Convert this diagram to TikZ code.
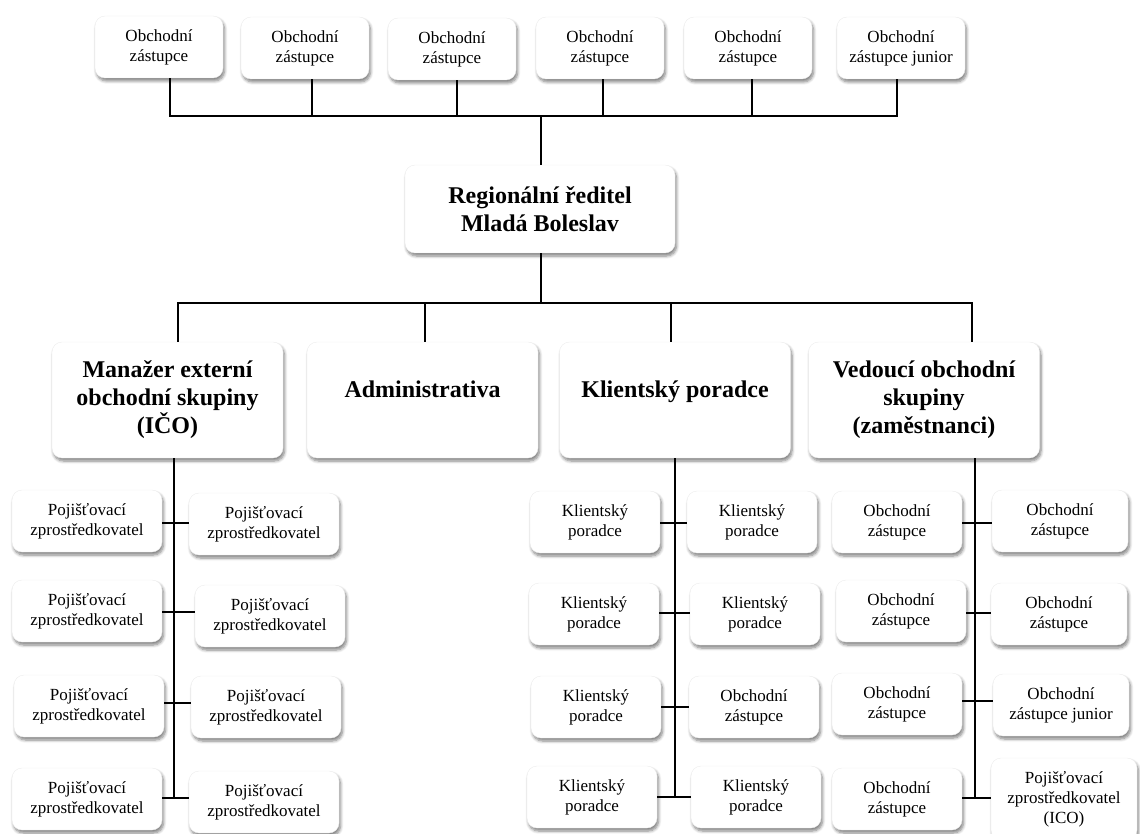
\documentclass[tikz,border=0pt]{standalone}
\usepackage{fontspec}
\setmainfont{Liberation Serif}
\usetikzlibrary{shadows.blur}
\begin{document}
\begin{tikzpicture}[x=1pt,y=-1pt,
  box/.style={fill=white, draw=black!7, rounded corners=10pt, align=center, inner sep=0pt,
    blur shadow={shadow xshift=1.5pt, shadow yshift=-3pt, shadow blur steps=6, shadow blur radius=3pt, shadow opacity=50}},
  small/.style={box, font=\fontsize{17}{20}\selectfont, minimum height=62pt},
  big/.style={box, font=\fontsize{24}{28}\selectfont\bfseries},
  topbox/.style={small, minimum width=128pt},
  pzbox/.style={small, minimum width=150pt},
  kpbox/.style={small, minimum width=130pt},
  ozbox/.style={small, minimum width=130pt},
  ozrbox/.style={small, minimum width=136pt},
  lvl/.style={big, minimum width=231pt, minimum height=116pt},
  line/.style={line width=1.2pt, black}]
\useasboundingbox (0,0) rectangle (1140,834);

% top row
\node[topbox] (t1) at (159,47) {Obchodní\\zástupce};
\node[topbox] (t2) at (305,48) {Obchodní\\zástupce};
\node[topbox] (t3) at (452,49) {Obchodní\\zástupce};
\node[topbox] (t4) at (600,48) {Obchodní\\zástupce};
\node[topbox] (t5) at (748,48) {Obchodní\\zástupce};
\node[topbox] (t6) at (901,48) {Obchodní\\zástupce junior};

% regional director
\node[big, minimum width=270pt, minimum height=88pt] (reg) at (540,209) {Regionální ředitel\\Mladá Boleslav};

% level 2
\node[lvl] (man) at (167.5,400) {Manažer externí\\obchodní skupiny\\(IČO)};
\node[lvl, text depth=22pt] (adm) at (422.5,400) {Administrativa};
\node[lvl, text depth=22pt] (kli) at (675,400) {Klientský poradce};
\node[lvl] (ved) at (924,400) {Vedoucí obchodní\\skupiny\\(zaměstnanci)};

% Manažer children
\node[pzbox] (ml1) at (87,521) {Pojišťovací\\zprostředkovatel};
\node[pzbox] (ml2) at (87,611) {Pojišťovací\\zprostředkovatel};
\node[pzbox] (ml3) at (89,706) {Pojišťovací\\zprostředkovatel};
\node[pzbox] (ml4) at (87,799) {Pojišťovací\\zprostředkovatel};
\node[pzbox] (mr1) at (264,524) {Pojišťovací\\zprostředkovatel};
\node[pzbox] (mr2) at (270,616) {Pojišťovací\\zprostředkovatel};
\node[pzbox] (mr3) at (266,707) {Pojišťovací\\zprostředkovatel};
\node[pzbox] (mr4) at (264,802) {Pojišťovací\\zprostředkovatel};

% Klient children
\node[kpbox] (kl1) at (595,522) {Klientský\\poradce};
\node[kpbox] (kl2) at (594,614) {Klientský\\poradce};
\node[kpbox] (kl3) at (596,707) {Klientský\\poradce};
\node[kpbox] (kl4) at (592,797) {Klientský\\poradce};
\node[kpbox] (kr1) at (752,522) {Klientský\\poradce};
\node[kpbox] (kr2) at (755,614) {Klientský\\poradce};
\node[ozbox] (kr3) at (754,707) {Obchodní\\zástupce};
\node[kpbox] (kr4) at (756,797) {Klientský\\poradce};

% Vedoucí children
\node[ozbox] (vl1) at (897,522) {Obchodní\\zástupce};
\node[ozbox] (vl2) at (901,611) {Obchodní\\zástupce};
\node[ozbox] (vl3) at (897,704) {Obchodní\\zástupce};
\node[ozbox] (vl4) at (897,799) {Obchodní\\zástupce};
\node[ozrbox] (vr1) at (1060,521) {Obchodní\\zástupce};
\node[ozrbox] (vr2) at (1059,614) {Obchodní\\zástupce};
\node[ozrbox] (vr3) at (1061,705) {Obchodní\\zástupce junior};
\node[small, minimum width=146pt, minimum height=82pt] (vr4) at (1064,799) {Pojišťovací\\zprostředkovatel\\(ICO)};

% connector coordinates
\coordinate (b1) at (170,116);
\coordinate (b2) at (312,116);
\coordinate (b3) at (457,116);
\coordinate (b4) at (603,116);
\coordinate (b5) at (752,116);
\coordinate (b6) at (897,116);
\coordinate (c1) at (178,303);
\coordinate (c2) at (425,303);
\coordinate (c3) at (671,303);
\coordinate (c4) at (972,303);
\coordinate (mt) at (174,798);
\coordinate (kt) at (675,797);
\coordinate (vt) at (975,798);

% top connectors
\draw[line] (t1.south -| b1) |- (b6) -- (t6.south -| b6);
\draw[line] (t2.south -| b2) -- (b2);
\draw[line] (t3.south -| b3) -- (b3);
\draw[line] (t4.south -| b4) -- (b4);
\draw[line] (t5.south -| b5) -- (b5);
\draw[line] ([xshift=1pt]reg.north) -- ([xshift=1pt]reg.north |- b1);

% level 2 connectors
\draw[line] ([xshift=1pt]reg.south) -- ([xshift=1pt]reg.south |- c1);
\draw[line] (man.north -| c1) |- (c4) -- (ved.north -| c4);
\draw[line] (adm.north -| c2) -- (c2);
\draw[line] (kli.north -| c3) -- (c3);

% trunks
\draw[line] (man.south -| mt) -- (mt);
\draw[line] (kli.south -| kt) -- (kt);
\draw[line] (ved.south -| vt) -- (vt);

% ties Manažer
\draw[line] (ml1.east |- 0,523) -- (mr1.west |- 0,523);
\draw[line] (ml2.east |- 0,612) -- (mr2.west |- 0,612);
\draw[line] (ml3.east |- 0,703) -- (mr3.west |- 0,703);
\draw[line] (ml4.east |- mt) -- (mr4.west |- mt);
% ties Klient
\draw[line] (kl1.east |- 0,523) -- (kr1.west |- 0,523);
\draw[line] (kl2.east |- 0,613) -- (kr2.west |- 0,613);
\draw[line] (kl3.east |- 0,707) -- (kr3.west |- 0,707);
\draw[line] (kl4.east |- kt) -- (kr4.west |- kt);
% ties Vedoucí
\draw[line] (vl1.east |- 0,523) -- (vr1.west |- 0,523);
\draw[line] (vl2.east |- 0,613) -- (vr2.west |- 0,613);
\draw[line] (vl3.east |- 0,701) -- (vr3.west |- 0,701);
\draw[line] (vl4.east |- vt) -- (vr4.west |- vt);
\end{tikzpicture}
\end{document}
